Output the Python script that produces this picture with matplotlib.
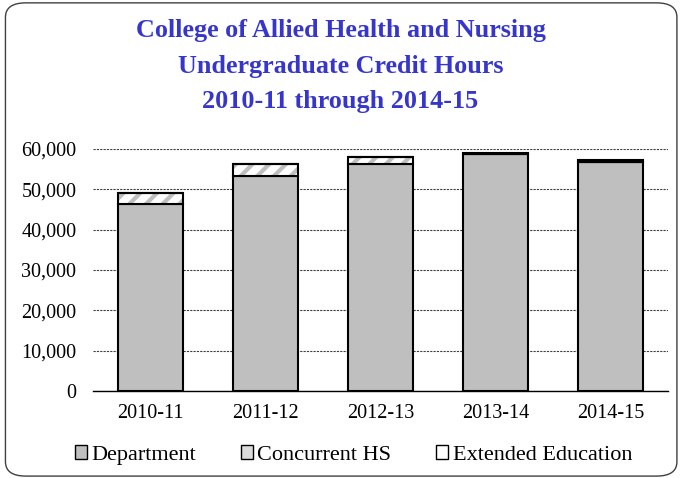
import matplotlib.pyplot as plt
from matplotlib.patches import FancyBboxPatch, Patch
import numpy as np

plt.rcParams['font.family'] = ['Liberation Serif', 'DejaVu Serif']
plt.rcParams['hatch.linewidth'] = 3

# Data
years = ['2010-11', '2011-12', '2012-13', '2013-14', '2014-15']
department = [46300, 53300, 56400, 58700, 56900]
concurrent = [2700, 3000, 1500, 0, 0]
extended = [0, 0, 0, 200, 300]

x = np.arange(len(years))
w = 0.57
dept = np.array(department)
conc = np.array(concurrent)
ext = np.array(extended)

fig = plt.figure(figsize=(6.81, 4.78), dpi=100)
ax = fig.add_axes([93 / 681, 1 - 391 / 478, 575 / 681, 242 / 478])

ax.bar(x, dept, w, color='#bfbfbf', edgecolor='black', linewidth=1.5, zorder=3)
ax.bar(x, conc, w, bottom=dept, color='white', edgecolor='#bfbfbf',
       hatch='//', linewidth=0, zorder=3)
ax.bar(x, conc, w, bottom=dept, fill=False, edgecolor='black', linewidth=1.5, zorder=4)
ax.bar(x, ext, w, bottom=dept + conc, color='white', edgecolor='black',
       linewidth=1.5, zorder=4)

ax.set_ylim(0, 60000)
ax.set_xlim(-0.5, len(years) - 0.5)
ax.set_yticks(range(0, 60001, 10000))
ax.set_yticklabels([f'{v:,}' for v in range(0, 60001, 10000)], fontsize=14.5)
ax.set_xticks(x)
ax.set_xticklabels(years, fontsize=14.5)
ax.tick_params(axis='y', length=0, pad=12)
ax.tick_params(axis='x', length=0, pad=9)
ax.grid(axis='y', color='#404040', linestyle=(0, (2, 1)), linewidth=0.8, zorder=0)
for s in ['top', 'right', 'left']:
    ax.spines[s].set_visible(False)
ax.spines['bottom'].set_linewidth(1)

fig.text(0.5, 1 - 19 / 478, 'College of Allied Health and Nursing\nUndergraduate Credit Hours\n2010-11 through 2014-15',
         ha='center', va='top', fontsize=18.8, fontweight='bold', color='#3636cc',
         linespacing=1.7)

handles = [Patch(facecolor='#bfbfbf', edgecolor='black', label='Department'),
           Patch(facecolor='#dcdcdc', edgecolor='black', label='Concurrent HS'),
           Patch(facecolor='white', edgecolor='black', label='Extended Education')]
fig.legend(handles=handles, loc='center', bbox_to_anchor=(0.5 + 13 / 681, 1 - 455 / 478), ncol=3,
           frameon=False, fontsize=16, handlelength=0.55, handleheight=0.55,
           handletextpad=0.2, columnspacing=2.0)

fig.patches.append(FancyBboxPatch((0.008, 0.004), 0.986, 0.99,
                                  boxstyle='round,pad=0,rounding_size=0.03',
                                  transform=fig.transFigure, fill=False,
                                  edgecolor='#404040', linewidth=1))

fig.savefig('out.png', dpi=100)
